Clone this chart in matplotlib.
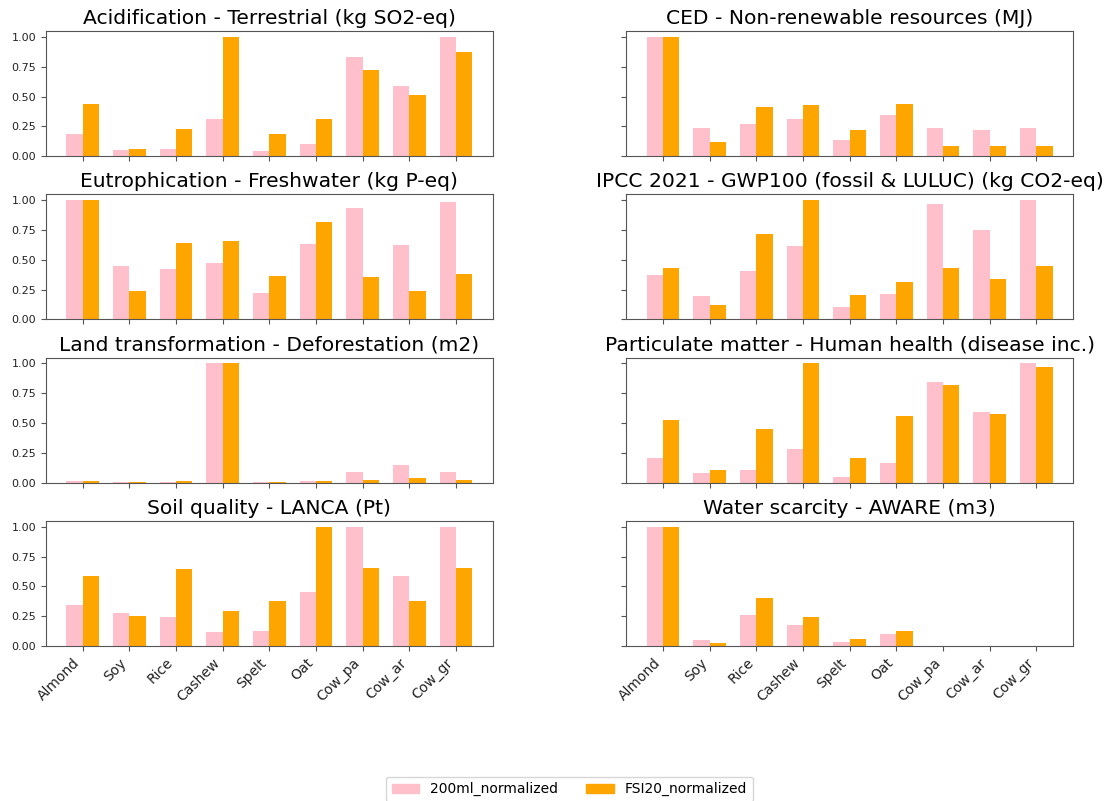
import numpy as np
import matplotlib
matplotlib.use("Agg")
import matplotlib.pyplot as plt
from matplotlib.patches import Patch

products = ["Almond", "Soy", "Rice", "Cashew", "Spelt", "Oat", "Cow_pa", "Cow_ar", "Cow_gr"]

titles = [
    "Acidification - Terrestrial (kg SO2-eq)",
    "CED - Non-renewable resources (MJ)",
    "Eutrophication - Freshwater (kg P-eq)",
    "IPCC 2021 - GWP100 (fossil & LULUC) (kg CO2-eq)",
    "Land transformation - Deforestation (m2)",
    "Particulate matter - Human health (disease inc.)",
    "Soil quality - LANCA (Pt)",
    "Water scarcity - AWARE (m3)",
]

# 200 ml serving, normalized to the maximum per indicator
acid_200ml = [0.19, 0.05, 0.064, 0.313, 0.047, 0.106, 0.832, 0.592, 1.0]
ced_200ml = [1.0, 0.237, 0.268, 0.316, 0.134, 0.344, 0.24, 0.223, 0.24]
eutro_200ml = [1.0, 0.448, 0.426, 0.471, 0.218, 0.636, 0.938, 0.622, 0.989]
gwp_200ml = [0.37, 0.193, 0.406, 0.619, 0.106, 0.213, 0.969, 0.753, 1.0]
land_200ml = [0.011, 0.008, 0.008, 1.0, 0.003, 0.011, 0.089, 0.147, 0.089]
pm_200ml = [0.206, 0.081, 0.111, 0.281, 0.047, 0.167, 0.842, 0.597, 1.0]
soil_200ml = [0.342, 0.28, 0.244, 0.12, 0.129, 0.457, 1.0, 0.588, 0.994]
water_200ml = [1.0, 0.048, 0.263, 0.176, 0.034, 0.098, 0.002, 0.002, 0.001]

# FSI20 functional unit, normalized to the maximum per indicator
acid_fsi = [0.436, 0.059, 0.232, 1.0, 0.187, 0.316, 0.726, 0.514, 0.872]
ced_fsi = [1.0, 0.12, 0.416, 0.433, 0.223, 0.439, 0.089, 0.084, 0.089]
eutro_fsi = [1.0, 0.235, 0.641, 0.655, 0.361, 0.815, 0.359, 0.238, 0.378]
gwp_fsi = [0.431, 0.118, 0.72, 1.0, 0.204, 0.314, 0.431, 0.339, 0.445]
land_fsi = [0.011, 0.005, 0.011, 1.0, 0.005, 0.011, 0.022, 0.039, 0.022]
pm_fsi = [0.528, 0.111, 0.447, 1.0, 0.206, 0.556, 0.817, 0.578, 0.969]
soil_fsi = [0.588, 0.249, 0.647, 0.291, 0.375, 1.0, 0.65, 0.381, 0.65]
water_fsi = [1.0, 0.022, 0.403, 0.244, 0.056, 0.123, 0.0, 0.0, 0.0]

series_200ml = [acid_200ml, ced_200ml, eutro_200ml, gwp_200ml,
                land_200ml, pm_200ml, soil_200ml, water_200ml]
series_fsi = [acid_fsi, ced_fsi, eutro_fsi, gwp_fsi,
              land_fsi, pm_fsi, soil_fsi, water_fsi]

label_200ml = "200ml_normalized"
label_fsi = "FSI20_normalized"
color_200ml = "pink"
color_fsi = "orange"

fig, axes = plt.subplots(4, 2, figsize=(11.08, 8.01), dpi=100,
                         sharex=True, sharey=True)
fig.subplots_adjust(left=0.0415, right=0.9684, top=0.9613, bottom=0.1935,
                    wspace=0.30, hspace=0.304)

x = np.arange(len(products))
width = 0.35
spine_col = "#555555"

for ax, title, a, b in zip(axes.flat, titles, series_200ml, series_fsi):
    ax.bar(x - width / 2, a, width, color=color_200ml)
    ax.bar(x + width / 2, b, width, color=color_fsi)
    ax.set_title(title, fontsize=14.6, pad=5)
    ax.set_yticks([0.0, 0.25, 0.5, 0.75, 1.0])
    ax.tick_params(axis="y", labelsize=8, colors=spine_col, labelcolor="#222222")
    ax.tick_params(axis="x", labelsize=10, colors=spine_col, labelcolor="#222222")
    for s in ax.spines.values():
        s.set_color(spine_col)

for ax in axes[-1]:
    ax.set_xticks(x)
    ax.set_xticklabels(products, rotation=45, ha="right", rotation_mode="default")

handles = [Patch(color=color_200ml, label=label_200ml),
           Patch(color=color_fsi, label=label_fsi)]
fig.legend(handles=handles, loc="upper center", bbox_to_anchor=(0.514, 0.039),
           ncol=2, fontsize=10)

fig.savefig("out.png", dpi=100)
